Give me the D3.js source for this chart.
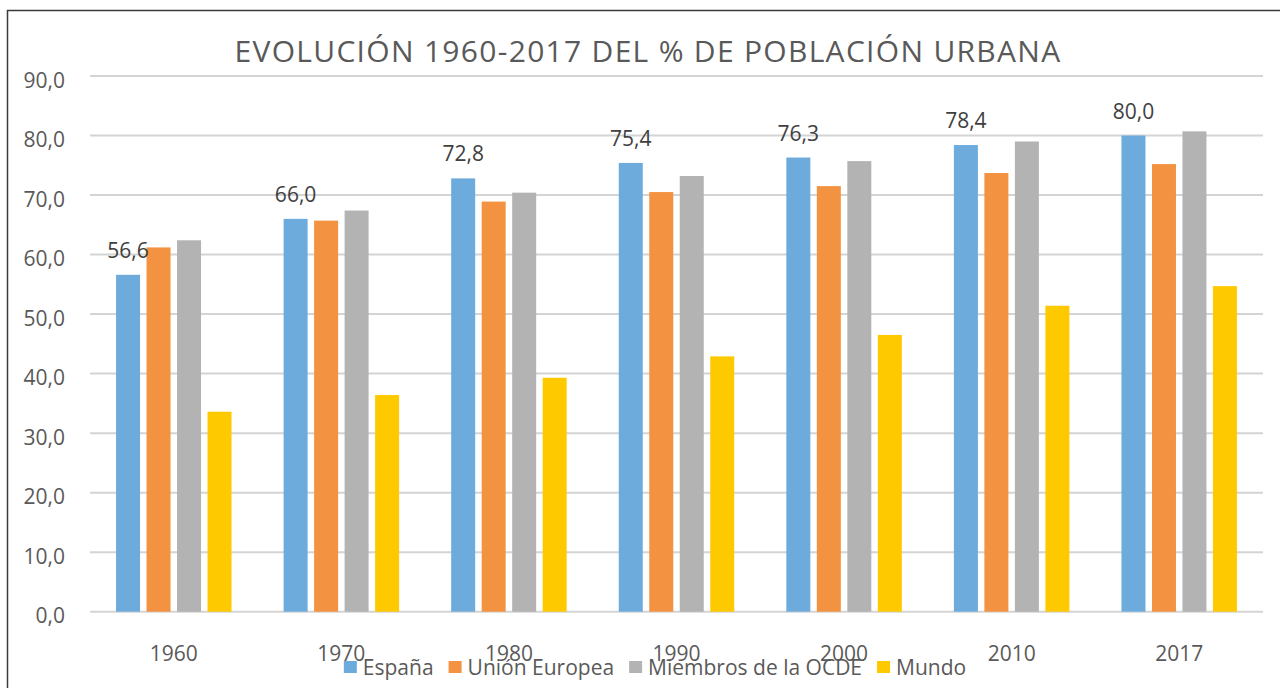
<!DOCTYPE html>
<html>
<head>
<meta charset="utf-8">
<script src="https://cdn.jsdelivr.net/npm/d3@7"></script>
<style>
  body { margin: 0; background: #fff; }
  text { font-family: "Open Sans", "Noto Sans", sans-serif; }
</style>
</head>
<body>
<div id="chart"></div>
<script>
var years = ["1960", "1970", "1980", "1990", "2000", "2010", "2017"];
var seriesNames = ["España", "Unión Europea", "Miembros de la OCDE", "Mundo"];
var espana = [56.6, 66.0, 72.8, 75.4, 76.3, 78.4, 80.0];
var unionEuropea = [61.2, 65.7, 68.9, 70.5, 71.5, 73.7, 75.2];
var ocde = [62.4, 67.4, 70.4, 73.2, 75.7, 79.0, 80.7];
var mundo = [33.6, 36.4, 39.3, 42.9, 46.5, 51.4, 54.7];
var yTicks = [0, 10, 20, 30, 40, 50, 60, 70, 80, 90];

var colors = ["#6dabdd", "#f39240", "#b3b3b3", "#ffc900"];
var allSeries = [espana, unionEuropea, ocde, mundo];

var svgWidth = 1280;
var svgHeight = 688;

var svg = d3.select("#chart")
  .append("svg")
  .attr("width", svgWidth)
  .attr("height", svgHeight);

// outer frame (right and bottom edges run off the picture)
svg.append("rect")
  .attr("x", 7.5)
  .attr("y", 10.5)
  .attr("width", 1320)
  .attr("height", 720)
  .attr("fill", "#fff")
  .attr("stroke", "#3a3a3a")
  .attr("stroke-width", 1.5);

var fmt = function(v) { return d3.format(".1f")(v).replace(".", ","); };

var x0 = d3.scaleBand()
  .domain(years)
  .range([90, 1263])
  .padding(0);

var x1 = d3.scaleBand()
  .domain(seriesNames)
  .range([0, x0.bandwidth()])
  .paddingInner(0.213)
  .paddingOuter(0.854);

var y = d3.scaleLinear()
  .domain([0, 90])
  .range([611.7, 76]);

// gridlines
svg.append("g")
  .selectAll("line")
  .data(yTicks)
  .enter()
  .append("line")
  .attr("x1", 90)
  .attr("x2", 1263)
  .attr("y1", d => y(d))
  .attr("y2", d => y(d))
  .attr("stroke", "#d4d4d4")
  .attr("stroke-width", 2);

// y axis labels
var yAxis = d3.axisLeft(y)
  .tickValues(yTicks)
  .tickFormat(fmt)
  .tickSize(0)
  .tickPadding(25);

var yG = svg.append("g")
  .attr("transform", "translate(90,0)")
  .call(yAxis);
yG.select(".domain").remove();
yG.selectAll("text")
  .attr("dy", 11)
  .attr("fill", "#595959")
  .style("font-size", "21px")
  .style("font-family", "'Open Sans', sans-serif");

// bars
var rows = years.map(function(yr, i) {
  return { year: yr, values: seriesNames.map(function(s, j) {
    return { name: s, value: allSeries[j][i], color: colors[j] };
  }) };
});

var groups = svg.append("g")
  .selectAll("g")
  .data(rows)
  .enter()
  .append("g")
  .attr("transform", d => `translate(${x0(d.year)},0)`);

groups.selectAll("rect")
  .data(d => d.values)
  .enter()
  .append("rect")
  .attr("x", d => x1(d.name))
  .attr("width", x1.bandwidth())
  .attr("y", d => y(d.value))
  .attr("height", d => y(0) - y(d.value))
  .attr("fill", d => d.color);

// data labels (España only)
groups.append("text")
  .attr("x", x1("España") + x1.bandwidth() / 2)
  .attr("y", d => y(d.values[0].value) - 17)
  .attr("text-anchor", "middle")
  .attr("fill", "#404040")
  .style("font-size", "21px")
  .text(d => fmt(d.values[0].value));

// x axis labels
var xAxis = d3.axisBottom(x0).tickSize(0).tickPadding(0);
var xG = svg.append("g")
  .attr("transform", "translate(0,611.7)")
  .call(xAxis);
xG.select(".domain").remove();
xG.selectAll("text")
  .attr("y", 49)
  .attr("dy", 0)
  .attr("fill", "#595959")
  .style("font-size", "21px")
  .style("font-family", "'Open Sans', sans-serif");

// title
svg.append("text")
  .attr("x", 648)
  .attr("y", 62)
  .attr("text-anchor", "middle")
  .attr("fill", "#595959")
  .style("font-size", "30px")
  .style("letter-spacing", "1.3px")
  .text("EVOLUCIÓN 1960-2017 DEL % DE POBLACIÓN URBANA");

// legend
var legend = svg.append("g");
var cursor = 0;
seriesNames.forEach(function(name, j) {
  var item = legend.append("g").attr("transform", `translate(${cursor},0)`);
  item.append("rect")
    .attr("x", 0)
    .attr("y", 661)
    .attr("width", 13)
    .attr("height", 12)
    .attr("fill", colors[j]);
  var t = item.append("text")
    .attr("x", 19)
    .attr("y", 675)
    .attr("fill", "#595959")
    .style("font-size", "21px")
    .text(name);
  cursor += 19 + t.node().getComputedTextLength() + 15;
});
cursor -= 15;
legend.attr("transform", `translate(${655 - cursor / 2},0)`);
</script>
</body>
</html>
